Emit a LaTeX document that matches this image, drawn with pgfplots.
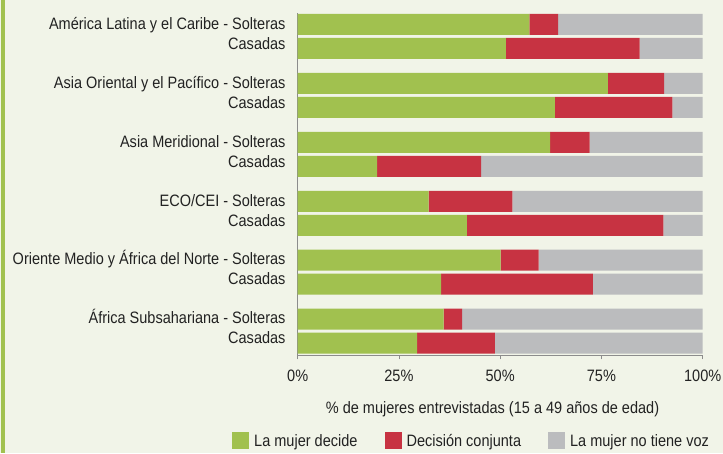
\documentclass[border=0pt]{standalone}
\usepackage{fontspec}
\setmainfont{Liberation Sans}[FakeStretch=0.88]
\usepackage{pgfplots}
\pgfplotsset{compat=1.18}

\definecolor{cgreen}{HTML}{A1C14F}
\definecolor{cred}{HTML}{C73342}
\definecolor{cgrey}{HTML}{BBBCBE}
\definecolor{cbg}{HTML}{F1F4E8}
\definecolor{caxis}{HTML}{8C8C8C}
\definecolor{ctext}{HTML}{222222}

\newcommand{\lab}{\fontsize{16.5}{19}\selectfont\color{ctext}}

% y positions in pt from the bottom of the picture
\pgfplotstableread{
y     decide conj novoz
428.5  57.2   7.1  35.7
404.5  51.4  33.0  15.6
369.58 76.6  13.9   9.5
345.58 63.5  29.0   7.5
310.66 62.3   9.8  27.9
286.66 19.6  25.7  54.7
251.74 32.3  20.7  47.0
227.74 41.8  48.5   9.7
192.82 50.1   9.4  40.5
168.82 35.4  37.5  27.1
133.9  36.0   4.6  59.4
109.9  29.5  19.2  51.3
}\datatable

\begin{document}
\begin{tikzpicture}
\fill[cbg] (0,0) rectangle (723pt,453pt);
\fill[cgreen] (1pt,0) rectangle (5pt,453pt);
\path[use as bounding box] (0,0) rectangle (723pt,453pt);
\begin{axis}[
    at={(297.7pt,97.7pt)}, anchor=south west,
    scale only axis, width=405pt, height=342.6pt,
    xbar stacked, bar width=21,
    xmin=0, xmax=100, ymin=97.7, ymax=440.3,
    axis lines=left,
    axis line style={-, caxis, line width=0.8pt},
    tick style={caxis, line width=0.8pt},
    tick align=outside,
    major tick length=4pt,
    xtick={0,25,50,75,100},
    xticklabels={0\%,25\%,50\%,75\%,100\%},
    xticklabel style={font=\lab, text height=12pt, text depth=0pt, inner sep=0pt, yshift=-10pt},
    ytick={429.7,409.7,370.78,350.78,311.86,291.86,252.94,232.94,194.02,174.02,135.1,115.1},
    yticklabels={Am\'erica Latina y el Caribe - Solteras, Casadas,
                 Asia Oriental y el Pac\'ifico - Solteras, Casadas,
                 Asia Meridional - Solteras, Casadas,
                 ECO/CEI - Solteras, Casadas,
                 Oriente Medio y \'Africa del Norte - Solteras, Casadas,
                 \'Africa Subsahariana - Solteras, Casadas},
    ytick style={draw=none},
    yticklabel style={font=\lab, text height=12pt, text depth=0pt, inner sep=0pt, anchor=east, xshift=-8pt},
    extra y ticks={440.3,416.3,392.3,381.38,357.38,333.38,322.46,298.46,274.46,263.54,239.54,215.54,204.62,180.62,156.62,145.7,121.7,97.7},
    extra y tick labels={},
    extra y tick style={tick style={caxis, line width=0.8pt}},
    xlabel={\% de mujeres entrevistadas (15 a 49 a\~nos de edad)},
    xlabel style={font=\lab, text height=12pt, text depth=0pt, inner sep=0pt, anchor=center, at={(axis description cs:0.481,0)}, yshift=-51.7pt},
    legend columns=3,
    legend style={at={(axis description cs:-0.1622,-0.2501)}, anchor=west,
        draw=none, fill=none, inner sep=0pt, font=\lab,
        nodes={inner sep=0pt, text height=12pt, text depth=0pt},
        /tikz/every odd column/.append style={column sep=5pt},
        /tikz/every even column/.append style={column sep=27pt}},
    legend image code/.code={\fill[#1] (0pt,-8.5pt) rectangle (17pt,8.5pt);},
]
\addplot[fill=cgreen, draw=none] table[x=decide, y=y] {\datatable};
\addlegendentry{La mujer decide}
\addplot[fill=cred, draw=none] table[x=conj, y=y] {\datatable};
\addlegendentry{Decisi\'on conjunta}
\addplot[fill=cgrey, draw=none] table[x=novoz, y=y] {\datatable};
\addlegendentry{La mujer no tiene voz}
\end{axis}
\end{tikzpicture}
\end{document}
